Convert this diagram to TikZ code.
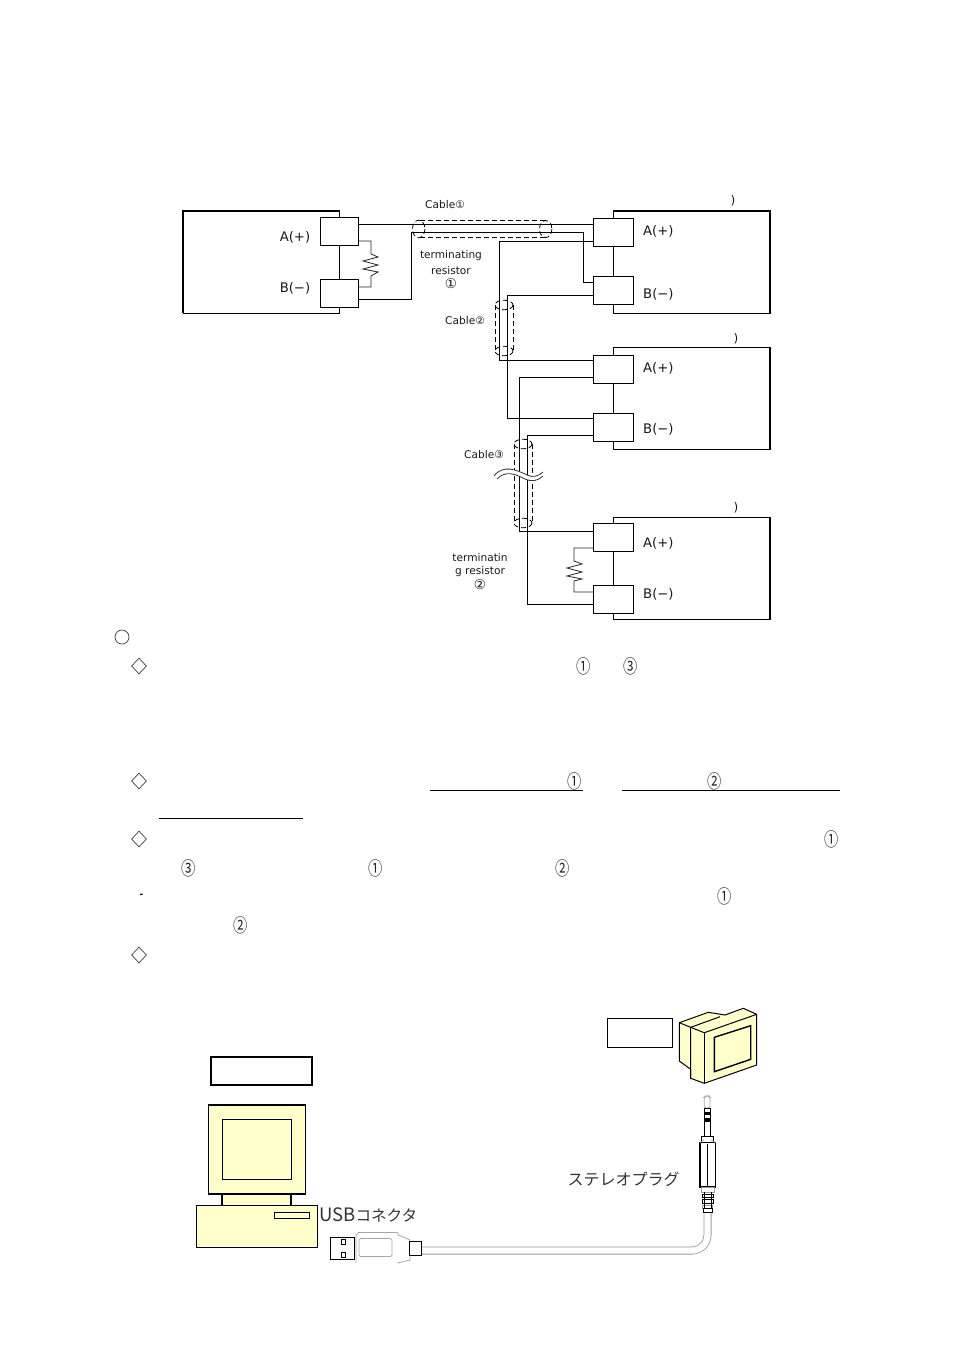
\documentclass[tikz,border=0pt]{standalone}
\usepackage{graphicx}
\usepackage{fontspec}
\setmainfont{DejaVu Sans}
\newfontfamily\jp{Noto Sans CJK JP}
\usetikzlibrary{shapes.geometric}
\definecolor{pcyellow}{HTML}{FFFFCC}
\newcommand{\tallnum}[1]{\scalebox{0.95}[1.25]{#1}}
\tikzset{
 unitbox/.style={draw=black,fill=white,line width=0.9pt,rectangle,inner sep=0pt,minimum width=157pt,minimum height=102pt},
 conn/.style={draw=black,fill=white,line width=0.9pt,rectangle,inner sep=0pt,minimum width=40pt,minimum height=27.5pt},
 wire/.style={line width=0.9pt,line join=miter},
 res/.style={line width=0.8pt,draw=black!85},
 shield/.style={line width=0.8pt,dash pattern=on 5pt off 3pt},
 port/.style={font=\fontsize{13.2}{14}\selectfont,inner sep=0pt,text=black!90},
 smalltxt/.style={font=\fontsize{10.6}{11}\selectfont,inner sep=0pt,text=black!90},
 num/.style={font=\jp\fontsize{15}{16}\selectfont,inner sep=0pt,text=black!85},
 kana/.style={font=\jp\fontsize{16}{17}\selectfont,inner sep=0pt,text=black!80},
 dmark/.style={diamond,draw=black!75,line width=0.7pt,inner sep=0pt,minimum width=15pt,minimum height=16pt,aspect=0.9},
 pc/.style={draw=black,fill=pcyellow,line width=1.2pt,line join=miter},
 plainbox/.style={draw=black,fill=white,line width=1pt},
 ul/.style={line width=0.9pt}
}
\begin{document}
\begin{tikzpicture}[x=1pt,y=-1pt]
\useasboundingbox[fill=white] (0,0) rectangle (954,1350);

% units
\node[unitbox,minimum width=156pt] (U0) at (261.3,262) {};
\node[unitbox] (U1) at (691.5,262) {};
\node[unitbox] (U2) at (691.5,398) {};
\node[unitbox] (U3) at (691.5,568) {};
\draw[line width=2pt] (U0.south west)--(U0.north west)--(U0.north east);
\draw[line width=2pt] (U1.north west)--(U1.north east)--(U1.south east);
\draw[line width=2pt] (U2.north east)--(U2.south east);
\draw[line width=2pt] (U3.north east)--(U3.south east);

% wires (under connectors)
\draw[wire] (359,224)--(593,224);
\draw[wire] (359,299)--(411,299)--(411,232)--(583,232)--(583,282)--(593,282);
\draw[wire] (593,241)--(499,241)--(499,360)--(593,360);
\draw[wire] (593,295)--(507.5,295)--(507.5,418)--(593,418);
\draw[wire] (593,377)--(519,377)--(519,531)--(593,531);
\draw[wire] (593,435)--(527,435)--(527,604)--(593,604);

% connectors
\node[conn,minimum width=38.5pt,minimum height=28pt] (LA) at (339.5,231) {};
\node[conn,minimum width=38.5pt,minimum height=28pt] (LB) at (339.5,293) {};
\node[conn] (R1A) at (613.5,232.5) {};
\node[conn] (R1B) at (613.5,290.5) {};
\node[conn] (R2A) at (613.5,369.5) {};
\node[conn] (R2B) at (613.5,427.5) {};
\node[conn] (R3A) at (613.5,537.5) {};
\node[conn] (R3B) at (613.5,599.5) {};

% resistors
\draw[res] (LA.east |- 0,241)--(371,241)--(371,254)--(378,257)--(363,261)--(378,265)--(363,269)--(378,272)--(371,276)--(371,287)--(LB.east |- 0,287);
\draw[res] (R3A.west |- 0,548)--(574,548)--(574,561)--(582,564)--(567,568)--(582,572)--(567,576)--(582,579)--(574,581)--(574,592)--(R3B.west |- 0,592);

% shields
\draw[shield] (420,220)--(545,220);
\draw[shield] (420,237)--(545,237);
\draw[shield] (418.7,229) ellipse [x radius=6.2,y radius=8.8];
\draw[shield] (545.7,229) ellipse [x radius=6.2,y radius=8.5];
\draw[shield] (495.3,305)--(495.3,351);
\draw[shield] (513,305)--(513,351);
\draw[shield] (504,305) ellipse [x radius=9,y radius=4.8];
\draw[shield] (504,351) ellipse [x radius=9,y radius=4.8];
\draw[shield] (514.5,444)--(514.5,523);
\draw[shield] (532,444)--(532,523);
\draw[shield] (523,444) ellipse [x radius=9,y radius=4.8];
\draw[shield] (523,523) ellipse [x radius=9,y radius=4.8];
% break mark
\path[fill=white] (494,476) .. controls (503,464) and (517,470) .. (527,475) .. controls (533,478) and (539,476) .. (543,472) -- (543,476) .. controls (538,481) and (532,482) .. (525,479) .. controls (515,474) and (506,470) .. (497,479) -- cycle;
\draw[line width=0.8pt,black!80] (494,476) .. controls (503,464) and (517,470) .. (527,475) .. controls (533,478) and (539,476) .. (543,472);
\draw[line width=0.8pt,black!80] (497,479) .. controls (506,470) and (515,474) .. (525,479) .. controls (532,482) and (538,481) .. (543,476);

% labels, upper diagram
\node[port] (lA0) at (295,237) {A(+)};
\node[port] (lB0) at (295,288) {B(−)};
\node[port,anchor=west] (lA1) at (643,231) {A(+)};
\node[port,anchor=west] (lB1) at (643,294) {B(−)};
\node[port,anchor=west] (lA2) at (643,368) {A(+)};
\node[port,anchor=west] (lB2) at (643,429) {B(−)};
\node[port,anchor=west] (lA3) at (643,543) {A(+)};
\node[port,anchor=west] (lB3) at (643,594) {B(−)};
\node[smalltxt] (c1) at (445,204.5) {Cable①};
\node[smalltxt] (c2) at (465,320.5) {Cable②};
\node[smalltxt] (c3) at (484,454.5) {Cable③};
\node[smalltxt] (t1a) at (451,255.5) {terminating};
\node[smalltxt] (t1b) at (451,270.5) {resistor};
\node[smalltxt,font=\fontsize{13.5}{14}\selectfont] (t1c) at (451,284) {①};
\node[smalltxt] (t2a) at (480,557.5) {terminatin};
\node[smalltxt] (t2b) at (480,571.5) {g resistor};
\node[smalltxt,font=\fontsize{13.5}{14}\selectfont] (t2c) at (480,585) {②};
\node[smalltxt,font=\fontsize{12}{13}\selectfont] (p1) at (733,201) {)};
\node[smalltxt,font=\fontsize{12}{13}\selectfont] (p2) at (736,339) {)};
\node[smalltxt,font=\fontsize{12}{13}\selectfont] (p3) at (736,508) {)};

% text block marks
\node[circle,draw=black!75,line width=0.7pt,inner sep=0pt,minimum size=14pt] (o1) at (122,637) {};
\node[dmark] (d1) at (139,666) {};
\node[dmark] (d2) at (139,781) {};
\node[dmark] (d3) at (139,839) {};
\node[dmark] (d4) at (139,955) {};
\node[num] (n1) at (584,666.5) {\tallnum{①}};
\node[num] (n2) at (631,666.5) {\tallnum{③}};
\node[num] (n3) at (574.5,781.5) {\tallnum{①}};
\node[num] (n4) at (714.5,781.5) {\tallnum{②}};
\node[num] (n5) at (832,839.5) {\tallnum{①}};
\node[num] (n6) at (189,868.5) {\tallnum{③}};
\node[num] (n7) at (376,868.5) {\tallnum{①}};
\node[num] (n8) at (563,868.5) {\tallnum{②}};
\node[num] (n9) at (725,896.5) {\tallnum{①}};
\node[num] (n10) at (240.5,925.5) {\tallnum{②}};
\node[inner sep=0pt,font=\bfseries\fontsize{9}{10}\selectfont] (dash) at (141.5,895.5) {-};
\draw[ul] (430,790.5)--(583,790.5);
\draw[ul] (622,790.5)--(840,790.5);
\draw[ul] (159,818.5)--(303,818.5);

% label boxes
\node[draw=black,line width=1.6pt,fill=white,inner sep=0pt,minimum width=101pt,minimum height=28pt] (box1) at (261.5,1071) {};
\node[plainbox,inner sep=0pt,minimum width=65.5pt,minimum height=29pt] (box2) at (640,1032.5) {};

% PC
\draw[pc] (222,1192) rectangle (291,1206);
\draw[pc,line width=1.3pt] (208.5,1105) rectangle (305.5,1194);
\draw[pc,line width=1pt] (222,1119) rectangle (291,1179);
\draw[pc,line width=1pt] (196,1205.5) rectangle (317,1247);
\draw[pc,line width=1pt] (274,1212) rectangle (309,1218);

% USB plug
\draw[draw=black!35,line width=0.8pt,fill=white] (356,1263)--(356,1235)--(358.5,1232.5)--(397,1232.5)--(398.5,1235)--(410,1240)--(410,1260)--(397.5,1263);
\draw[draw=black!35,line width=0.7pt,rounded corners=1.5pt] (359,1238.5) rectangle (392,1256.5);
\node[draw=black,fill=white,line width=1pt,inner sep=0pt,minimum width=24.5pt,minimum height=22pt] (usb) at (342.5,1248) {};
\draw[line width=0.9pt] (341,1239.5) rectangle (345.5,1244);
\draw[line width=0.9pt] (341,1252) rectangle (345.5,1257);

% cable
\draw[draw=black!40,line width=8pt] (421,1250.5)--(692,1250.5) arc[start angle=90,end angle=0,radius=15.5]--(707.5,1212);
\draw[draw=white,line width=6.4pt] (420,1250.5)--(692,1250.5) arc[start angle=90,end angle=0,radius=15.5]--(707.5,1211);
\node[draw=black,fill=white,line width=1pt,inner sep=0pt,minimum width=11.5pt,minimum height=14pt] (jack) at (415.5,1248) {};

% stereo plug
\draw[draw=black!35,fill=white,line width=0.8pt,rounded corners=1.5pt] (704.3,1108)--(704.3,1097)--(706,1096)--(708.5,1096)--(710,1097)--(710,1108)--cycle;
\node[draw=black,fill=white,line width=1pt,inner sep=0pt,minimum width=5.5pt,minimum height=28pt] (shaft) at (707.5,1122) {};
\fill[black] (705,1111.5) rectangle (710,1115);
\fill[black] (705,1118) rectangle (710,1122);
\node[draw=black,fill=white,line width=1pt,inner sep=0pt,minimum width=12pt,minimum height=6pt] (neck) at (707.5,1139) {};
\draw[line width=1.1pt,fill=white] (700,1142.5)--(715.5,1142.5)--(715.5,1187)--(700,1187)--cycle;
\draw[line width=0.9pt] (707.5,1144)--(707.5,1186);
\draw[draw=black!40,line width=0.7pt] (700,1142.5)--(704,1140);
\draw[draw=black!40,line width=0.7pt] (715.5,1142.5)--(711,1140);
\draw[draw=black!40,fill=white,line width=0.9pt] (701.5,1187)rectangle(714,1192);
\draw[draw=black,fill=white,line width=0.9pt] (702,1194.5)rectangle(713,1197.5);
\draw[draw=black,fill=white,line width=0.9pt] (702,1199.5)rectangle(713,1203);
\draw[draw=black!40,fill=white,line width=0.9pt] (702.5,1205)rectangle(712.5,1208);
\draw[draw=black,fill=white,line width=0.9pt] (703,1208)rectangle(712,1212.5);
\draw[line width=0.9pt] (704,1192)--(704,1208);
\draw[line width=0.9pt] (711,1192)--(711,1208);

% right monitor
\draw[pc,fill=pcyellow,line width=1pt] (679.3,1022.7)--(708.3,1012.3)--(725,1015)--(743.3,1008.3)--(756.7,1014.3)--(756.7,1065)--(704.3,1083.3)--(690.7,1078.3)--(690.7,1069.3)--(679.3,1061)--cycle;
\draw[line width=1pt] (679.3,1022.7)--(690.7,1027.3)--(690.7,1078.3);
\draw[line width=1pt] (690.7,1027.3)--(704.3,1032.7)--(756.7,1014.3);
\draw[line width=1pt] (704.3,1032.7)--(704.3,1083.3);
\draw[line width=1pt] (690.7,1027.3)--(720,1016.7);
\draw[line width=1.4pt] (714.3,1037.3)--(750.7,1025.7)--(750.7,1059.3)--(714.3,1071.7)--cycle;

% kana labels
\node[kana,anchor=west] (usbl) at (319,1215) {{\fontsize{18.5}{19}\selectfont USB}{\fontsize{15.6}{17}\selectfont コネクタ}};
\node[kana] (st) at (623.5,1179) {ステレオプラグ};
\end{tikzpicture}
\end{document}
